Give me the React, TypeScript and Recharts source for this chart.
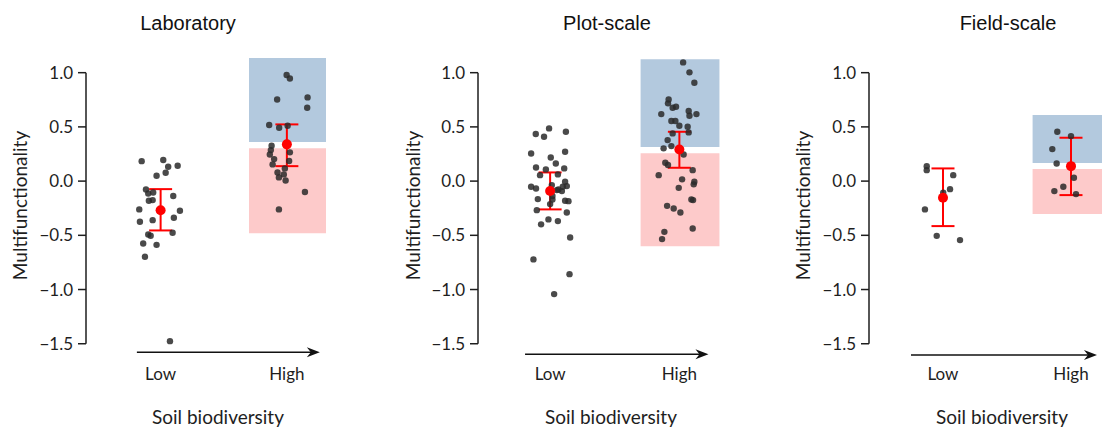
import { ErrorBar, ReferenceArea, ReferenceLine, Scatter, ScatterChart, XAxis, YAxis } from "recharts";

// tick labels and group names
const yTicks = [-1.5, -1.0, -0.5, 0, 0.5, 1.0];
const groupTicks = [1, 2];
const groupLabels = ["Low", "High"];

// Laboratory
const labLowX = [0.85, 1.021, 1.06, 1.135, 1.04, 0.968, 0.884, 0.902, 0.941, 0.907, 0.937, 1.1, 0.831, 1.153, 0.836, 0.937, 1.105, 0.902, 0.921, 1.095, 0.862, 0.968, 0.876, 1.074];
const labLowY = [0.184, 0.194, 0.132, 0.141, 0.077, 0.049, -0.077, -0.114, -0.105, -0.181, -0.175, -0.138, -0.261, -0.274, -0.375, -0.36, -0.338, -0.492, -0.504, -0.477, -0.575, -0.588, -0.698, -1.476];
const labHighX = [1.998, 2.024, 1.923, 2.164, 2.161, 1.86, 1.939, 2.006, 1.879, 1.873, 1.865, 1.899, 1.887, 2.024, 2.018, 1.984, 1.926, 1.976, 1.937, 1.99, 2.143, 1.937, 1.998];
const labHighY = [0.978, 0.947, 0.753, 0.772, 0.676, 0.517, 0.492, 0.51, 0.326, 0.286, 0.246, 0.203, 0.154, 0.265, 0.185, 0.117, 0.08, 0.062, 0.034, 0.006, -0.101, -0.261, 0.353];
const labMean = [-0.268, 0.339];
const labCiLow = [-0.455, 0.138];
const labCiHigh = [-0.074, 0.523];
const labBlue = [0.36, 1.135];
const labRed = [-0.48, 0.304];

// Plot-scale
const plotLowX = [0.992, 0.889, 0.953, 1.122, 0.853, 1.116, 1.005, 1.044, 0.891, 1.109, 0.967, 0.922, 1.06, 0.853, 0.891, 1.013, 1.064, 1.098, 1.116, 1.129, 1.091, 0.905, 1.018, 1.116, 1.142, 0.897, 1.129, 0.987, 1.06, 0.93, 1.155, 0.871, 1.15, 1.031, 1.018, 1.0, 1.052];
const plotLowY = [0.486, 0.434, 0.409, 0.455, 0.255, 0.271, 0.218, 0.163, 0.126, 0.117, 0.108, 0.055, 0.062, -0.052, -0.068, -0.037, -0.077, -0.052, -0.006, -0.046, -0.092, -0.166, -0.169, -0.181, -0.185, -0.268, -0.289, -0.353, -0.369, -0.399, -0.52, -0.722, -0.858, -1.042, -0.138, -0.212, -0.083];
const plotHighX = [2.029, 2.078, 2.116, 1.917, 1.912, 1.948, 1.974, 1.86, 2.072, 2.078, 2.132, 1.938, 1.969, 2.0, 2.064, 2.072, 1.948, 1.909, 1.938, 1.878, 2.033, 1.891, 1.912, 2.103, 1.84, 2.021, 2.116, 2.111, 1.995, 2.093, 2.106, 1.905, 1.956, 2.008, 2.103, 1.884, 1.866];
const plotHighY = [1.095, 1.003, 0.907, 0.753, 0.717, 0.676, 0.686, 0.618, 0.646, 0.603, 0.618, 0.554, 0.554, 0.51, 0.501, 0.449, 0.44, 0.378, 0.323, 0.302, 0.246, 0.169, 0.148, 0.101, 0.055, 0.016, -0.006, -0.03, -0.062, -0.169, -0.175, -0.228, -0.252, -0.289, -0.437, -0.468, -0.535];
const plotMean = [-0.092, 0.292];
const plotCiLow = [-0.261, 0.123];
const plotCiHigh = [0.08, 0.455];
const plotBlue = [0.314, 1.125];
const plotRed = [-0.6, 0.258];

// Field-scale
const fieldLowX = [0.873, 0.873, 1.08, 1.055, 1.002, 0.859, 0.951, 1.133];
const fieldLowY = [0.138, 0.101, 0.055, -0.074, -0.108, -0.261, -0.505, -0.544];
const fieldHighX = [1.893, 2.0, 1.854, 1.888, 2.023, 1.94, 1.87, 2.039];
const fieldHighY = [0.455, 0.415, 0.295, 0.163, 0.031, -0.052, -0.092, -0.12];
const fieldMean = [-0.154, 0.138];
const fieldCiLow = [-0.415, -0.129];
const fieldCiHigh = [0.117, 0.4];
const fieldBlue = [0.166, 0.609];
const fieldRed = [-0.304, 0.111];

const FONT = "Lato, 'Noto Sans', sans-serif";
const INK = "#1e1e1e";

const fmtY = (v: number) => (v < 0 ? "\u2212" : "") + Math.abs(v).toFixed(1);

const Dot = (p: any) => <circle cx={p.cx} cy={p.cy} r={3.2} fill="#2a2a2a" fillOpacity={0.85} />;
const MeanDot = (p: any) => <circle cx={p.cx} cy={p.cy} r={5} fill="#ff0000" />;

const Arrow = (p: any) => {
  const { x1, y1, x2, y2 } = p;
  return (
    <g>
      <line x1={x1} y1={y1} x2={x2 - 6} y2={y2} stroke="#111" strokeWidth={1.5} />
      <polygon points={`${x2},${y2} ${x2 - 13},${y2 - 5} ${x2 - 9},${y2} ${x2 - 13},${y2 + 5}`} fill="#111" />
    </g>
  );
};

type PanelProps = {
  title: string;
  titleX: number;
  left: number;
  width: number;
  yAxisWidth: number;
  xMin: number;
  labelOffset: number;
  arrowX: [number, number];
  arrowY: number;
  lowX: number[];
  lowY: number[];
  highX: number[];
  highY: number[];
  mean: number[];
  ciLow: number[];
  ciHigh: number[];
  blue: number[];
  red: number[];
};

function Panel(p: PanelProps) {
  const low = p.lowX.map((x, i) => ({ x, y: p.lowY[i] }));
  const high = p.highX.map((x, i) => ({ x, y: p.highY[i] }));
  const means = groupTicks.map((x, i) => ({ x, y: p.mean[i], err: [p.mean[i] - p.ciLow[i], p.ciHigh[i] - p.mean[i]] }));
  return (
    <div style={{ position: "absolute", left: p.left, top: 0, width: p.width, height: 430 }}>
      <div
        style={{
          position: "absolute",
          left: p.titleX - p.left - 100,
          top: 10,
          width: 200,
          textAlign: "center",
          fontFamily: "'Liberation Sans', Arial, sans-serif",
          fontSize: 20,
          lineHeight: "26px",
          color: "#111",
        }}
      >
        {p.title}
      </div>
      <ScatterChart width={p.width} height={430} margin={{ top: 51, right: 0, bottom: 0, left: 0 }}>
        <XAxis
          type="number"
          dataKey="x"
          domain={[p.xMin, 2.5]}
          allowDataOverflow
          ticks={groupTicks}
          tickFormatter={(v: number) => groupLabels[groupTicks.indexOf(v)]}
          axisLine={false}
          tickLine={false}
          height={70}
          tick={{ fontSize: 17, fill: INK, fontFamily: FONT }}
          label={{ value: "Soil biodiversity", position: "insideBottom", offset: 6, fontSize: 19, fill: INK, fontFamily: FONT }}
        />
        <YAxis
          type="number"
          dataKey="y"
          domain={[-1.65, 1.2]}
          allowDataOverflow
          ticks={yTicks}
          tickFormatter={fmtY}
          width={p.yAxisWidth}
          axisLine={false}
          tickSize={8}
          tickMargin={5}
          tickLine={{ stroke: INK, strokeWidth: 1.5 }}
          tick={{ fontSize: 17, fill: INK, fontFamily: FONT }}
          label={{
            value: "Multifunctionality",
            angle: -90,
            position: "insideLeft",
            offset: p.labelOffset,
            fontSize: 19,
            fill: INK,
            fontFamily: FONT,
            style: { textAnchor: "middle" },
          }}
        />
        <ReferenceArea x1={1.7} x2={2.31} y1={p.blue[0]} y2={p.blue[1]} fill="#b3c9de" fillOpacity={1} stroke="none" />
        <ReferenceArea x1={1.7} x2={2.31} y1={p.red[0]} y2={p.red[1]} fill="#fdcaca" fillOpacity={1} stroke="none" />
        <ReferenceLine
          segment={[
            { x: p.xMin, y: -1.5 },
            { x: p.xMin, y: 1.0 },
          ]}
          stroke={INK}
          strokeWidth={1.5}
        />
        <ReferenceLine
          segment={[
            { x: p.arrowX[0], y: p.arrowY },
            { x: p.arrowX[1], y: p.arrowY },
          ]}
          shape={Arrow}
        />
        <Scatter data={low} shape={Dot} isAnimationActive={false} />
        <Scatter data={high} shape={Dot} isAnimationActive={false} />
        <Scatter data={means} shape={MeanDot} isAnimationActive={false}>
          <ErrorBar dataKey="err" direction="y" width={11.5} stroke="#ff0000" strokeWidth={2} isAnimationActive={false} />
        </Scatter>
      </ScatterChart>
    </div>
  );
}

export default function App() {
  return (
    <div style={{ position: "absolute", left: 0, top: 0, width: 1102, height: 430, overflow: "hidden", background: "#fff" }}>
      <Panel
        title="Laboratory"
        titleX={188}
        left={0}
        width={350}
        yAxisWidth={86}
        xMin={0.409}
        labelOffset={20}
        arrowX={[0.812, 2.261]}
        arrowY={-1.578}
        lowX={labLowX}
        lowY={labLowY}
        highX={labHighX}
        highY={labHighY}
        mean={labMean}
        ciLow={labCiLow}
        ciHigh={labCiHigh}
        blue={labBlue}
        red={labRed}
      />
      <Panel
        title="Plot-scale"
        titleX={607}
        left={370}
        width={374}
        yAxisWidth={108}
        xMin={0.442}
        labelOffset={43}
        arrowX={[0.806, 2.225]}
        arrowY={-1.596}
        lowX={plotLowX}
        lowY={plotLowY}
        highX={plotHighX}
        highY={plotHighY}
        mean={plotMean}
        ciLow={plotCiLow}
        ciHigh={plotCiHigh}
        blue={plotBlue}
        red={plotRed}
      />
      <Panel
        title="Field-scale"
        titleX={1008}
        left={760}
        width={375}
        yAxisWidth={109}
        xMin={0.422}
        labelOffset={43}
        arrowX={[0.75, 2.203]}
        arrowY={-1.605}
        lowX={fieldLowX}
        lowY={fieldLowY}
        highX={fieldHighX}
        highY={fieldHighY}
        mean={fieldMean}
        ciLow={fieldCiLow}
        ciHigh={fieldCiHigh}
        blue={fieldBlue}
        red={fieldRed}
      />
    </div>
  );
}
